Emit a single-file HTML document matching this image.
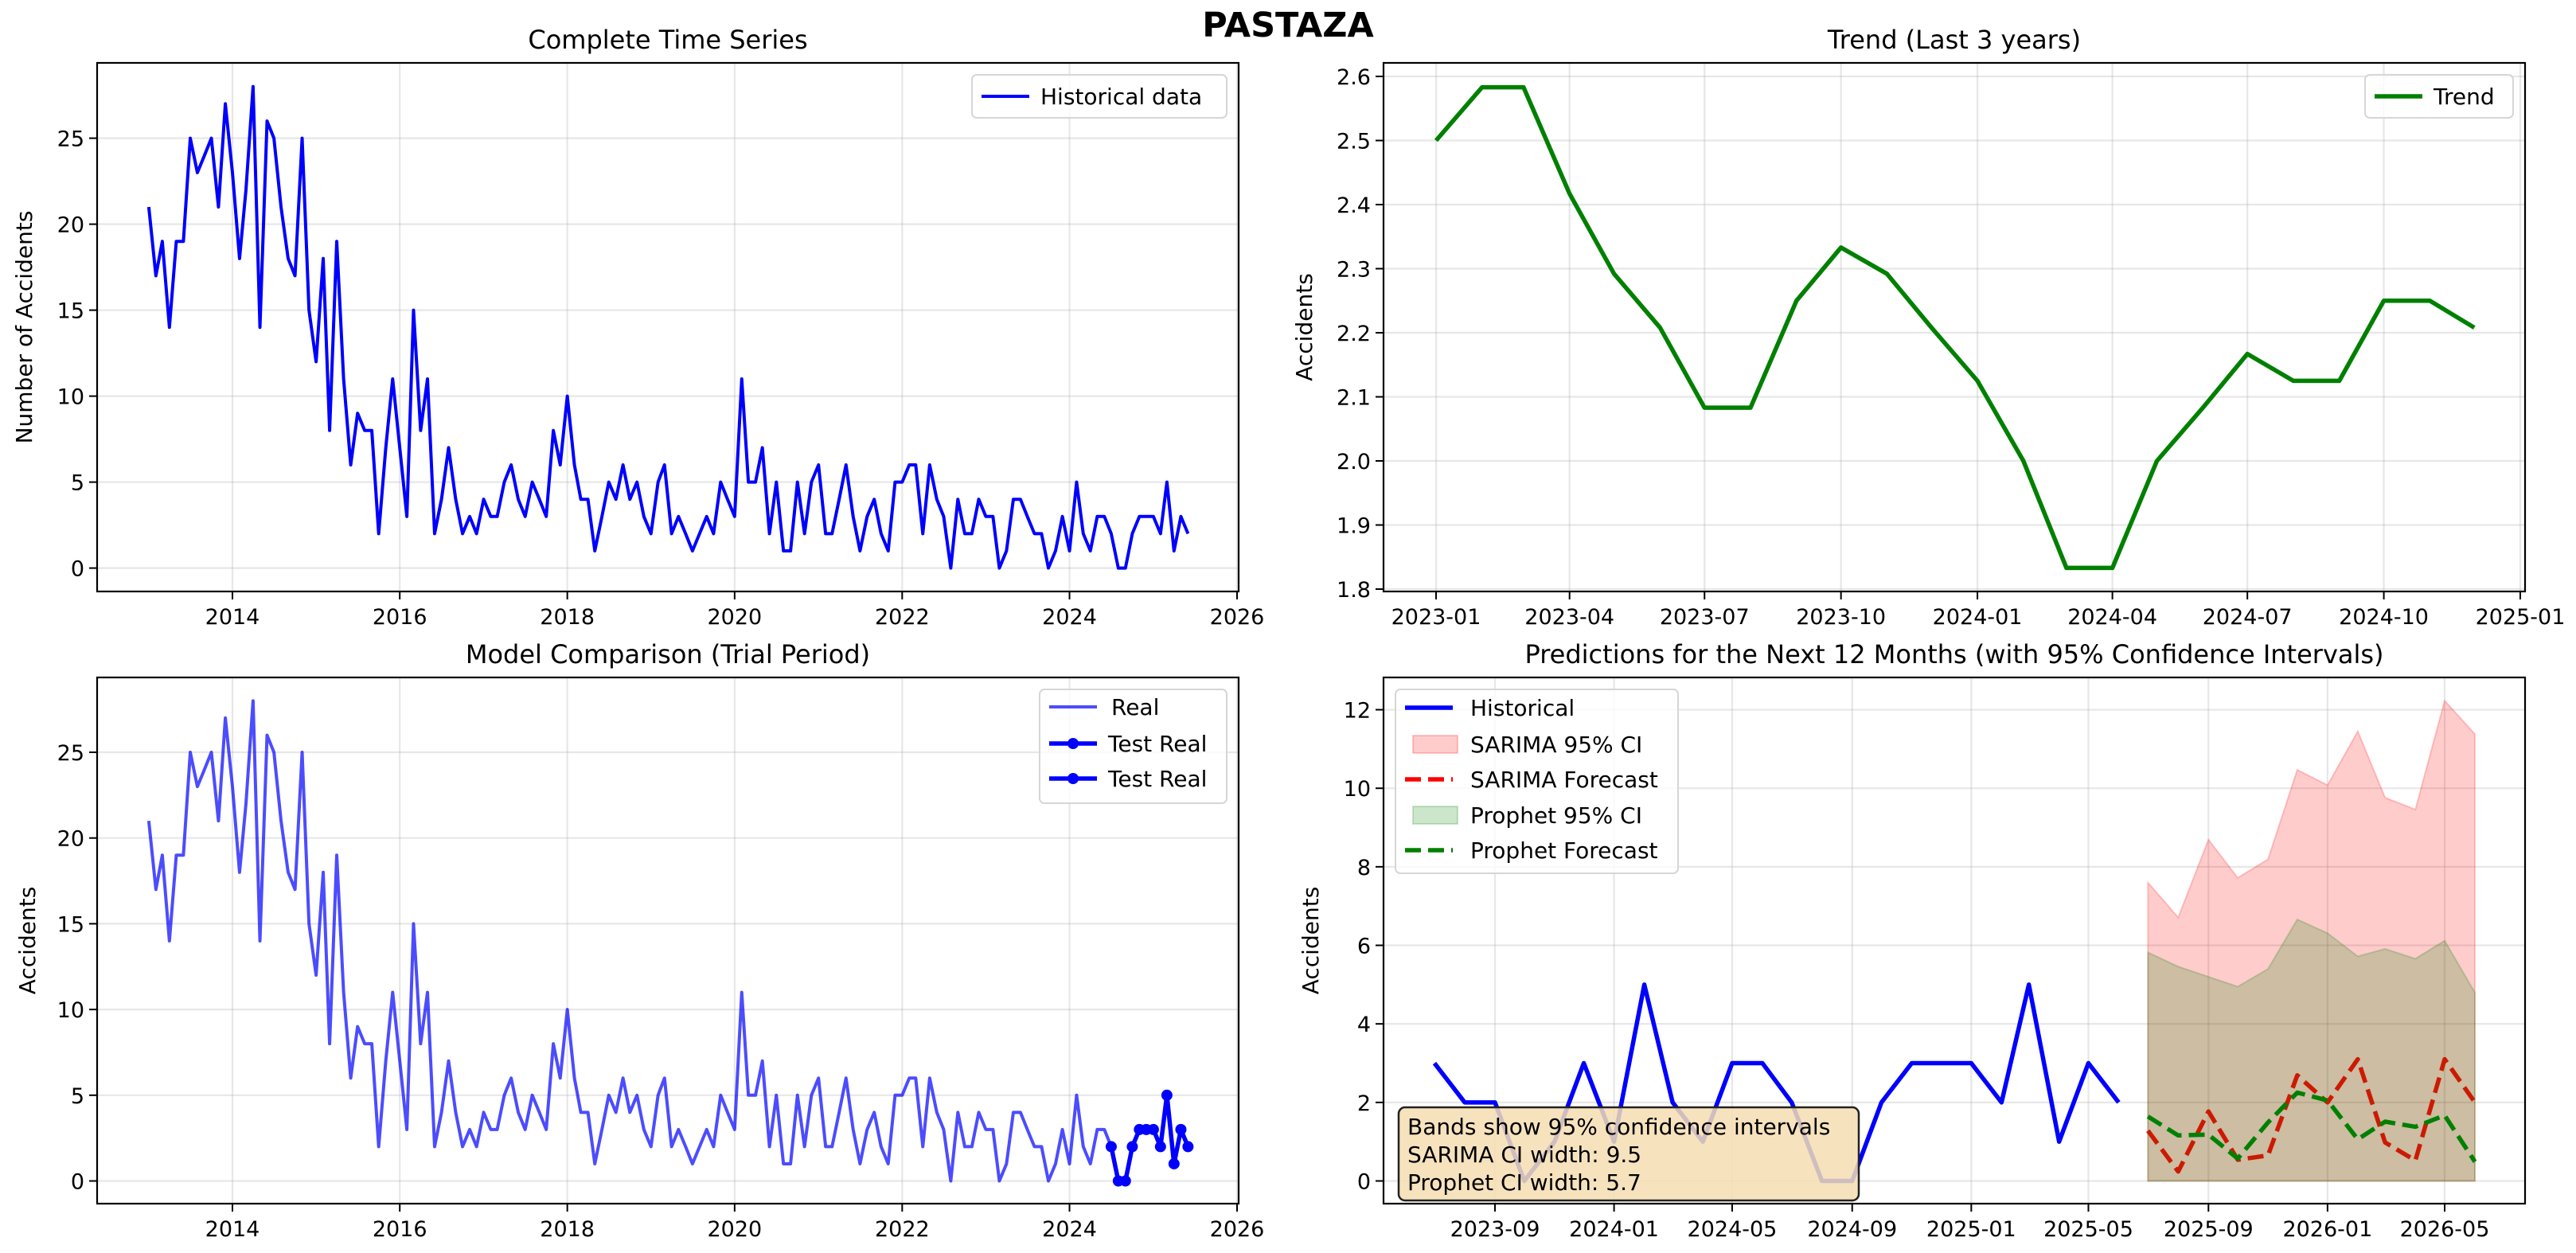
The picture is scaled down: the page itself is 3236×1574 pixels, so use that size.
<!DOCTYPE html>
<html><head><meta charset="utf-8"><style>
html,body{margin:0;padding:0;background:#fff}
svg{display:block}
text{font-family:"DejaVu Sans","Liberation Sans",sans-serif;fill:#000}
</style></head><body>
<svg id="fig" width="3236" height="1574" viewBox="0 0 3236 1574" xmlns="http://www.w3.org/2000/svg">
<rect width="3236" height="1574" fill="#fff"/>
<text x="1618" y="46" font-size="43" font-weight="bold" text-anchor="middle">PASTAZA</text>
</svg>
<script>
// ---- data ----
const histValues = [
21,17,19,14,19,19,25,23,24,25,21,27,
23,18,22,28,14,26,25,21,18,17,25,15,
12,18,8,19,11,6,9,8,8,2,7,11,
7,3,15,8,11,2,4,7,4,2,3,2,
4,3,3,5,6,4,3,5,4,3,8,6,
10,6,4,4,1,3,5,4,6,4,5,3,
2,5,6,2,3,2,1,2,3,2,5,4,
3,11,5,5,7,2,5,1,1,5,2,5,
6,2,2,4,6,3,1,3,4,2,1,5,
5,6,6,2,6,4,3,0,4,2,2,4,
3,3,0,1,4,4,3,2,2,0,1,3,
1,5,2,1,3,3,2,0,0,2,3,3,
3,2,5,1,3,2];
const histStart = [2013,0];
const testStartIndex = 138; // 2024-07
const trendValues = [2.5,2.583,2.583,2.417,2.292,2.208,2.083,2.083,2.25,2.333,2.292,2.208,
2.125,2.0,1.833,1.833,2.0,2.083,2.167,2.125,2.125,2.25,2.25,2.208];
const trendStart = [2023,0];
const recentStart = [2023,6]; // BR historical from 2023-07
const forecastStart = [2025,6];
const sarimaForecast = [1.28,0.24,1.77,0.54,0.65,2.69,2.0,3.1,0.98,0.52,3.1,2.0];
const sarimaUpper = [7.6,6.71,8.69,7.72,8.19,10.47,10.08,11.45,9.76,9.46,12.23,11.38];
const sarimaLower = [0,0,0,0,0,0,0,0,0,0,0,0];
const prophetForecast = [1.64,1.16,1.18,0.57,1.49,2.25,2.05,1.06,1.51,1.38,1.67,0.49];
const prophetUpper = [5.82,5.46,5.2,4.95,5.4,6.66,6.31,5.72,5.91,5.66,6.12,4.8];
const prophetLower = [0,0,0,0,0,0,0,0,0,0,0,0];
const yearTicks = [2014,2016,2018,2020,2022,2024,2026];
const countTicks = [0,5,10,15,20,25];
const trendTicks = [1.8,1.9,2.0,2.1,2.2,2.3,2.4,2.5,2.6];
const trendXTicks = ["2023-01","2023-04","2023-07","2023-10","2024-01","2024-04","2024-07","2024-10","2025-01"];
const predYTicks = [0,2,4,6,8,10,12];
const predXTicks = ["2023-09","2024-01","2024-05","2024-09","2025-01","2025-05","2025-09","2026-01","2026-05"];

const NS="http://www.w3.org/2000/svg";
const svg=document.getElementById('fig');
function el(tag,attrs,parent){const e=document.createElementNS(NS,tag);for(const k in attrs)e.setAttribute(k,attrs[k]);(parent||svg).appendChild(e);return e;}
function day(y,m){return Date.UTC(y,m,1)/86400000;}
function monthDay(start,i){return day(start[0],start[1]+i);}
function parseYM(s){const p=s.split('-');return day(+p[0],+p[1]-1);}

function makeAxes(o){
  const g=el('g',{});
  
  
  const X=d=>o.x0+(d-o.d0)*o.ppd;
  const Y=v=>o.yv0-(v-o.v0)*o.ppv;
  // grid + ticks
  o.xt.forEach(t=>{const x=X(t.d);
    el('line',{x1:x,x2:x,y1:o.top,y2:o.bottom,stroke:'#b0b0b0','stroke-opacity':0.3,'stroke-width':2.2},g);
    el('line',{x1:x,x2:x,y1:o.bottom,y2:o.bottom+10,stroke:'#000','stroke-width':2},g);
    const tx=el('text',{x:x,y:o.bottom+41,'font-size':27,'text-anchor':'middle'},g);tx.textContent=t.l;
    });
  o.yt.forEach(v=>{const y=Y(v);
    el('line',{x1:o.left,x2:o.right,y1:y,y2:y,stroke:'#b0b0b0','stroke-opacity':0.3,'stroke-width':2.2},g);
    el('line',{x1:o.left-10,x2:o.left,y1:y,y2:y,stroke:'#000','stroke-width':2},g);
    const tx=el('text',{x:o.left-16,y:y+10,'font-size':27,'text-anchor':'end'},g);tx.textContent=o.yfmt?o.yfmt(v):v;
    });
  const t=el('text',{x:(o.left+o.right)/2,y:o.top-18,'font-size':32,'text-anchor':'middle'},g);t.textContent=o.title;
  
  const yl=el('text',{x:0,y:0,'font-size':28,'text-anchor':'middle',transform:`translate(${o.ylx},${(o.top+o.bottom)/2}) rotate(-90)`},g);yl.textContent=o.ylabel;
  
  const clip='c'+Math.round(o.left)+Math.round(o.top);
  const cp=el('clipPath',{id:clip},g);el('rect',{x:o.left,y:o.top,width:o.right-o.left,height:o.bottom-o.top},cp);
  const plot=el('g',{'clip-path':`url(#${clip})`},g);
  return {g,plot,X,Y,o};
}
function frame(a){el('rect',{x:a.o.left,y:a.o.top,width:a.o.right-a.o.left,height:a.o.bottom-a.o.top,fill:'none',stroke:'#000','stroke-width':2.2},a.g);}
function poly(a,pts,attrs,name){const p=el('polyline',Object.assign({points:pts.map(q=>q.join(',')).join(' '),fill:'none','stroke-linejoin':'round'},attrs),a.plot);
  return p;}
function legend(a,x,y,w,h,items){
  const lg=el('g',{},a.g);
  
  el('rect',{x,y,width:w,height:h,rx:6,fill:'#fff','fill-opacity':0.8,stroke:'#d6d6d6','stroke-width':2},lg);
  items.forEach(it=>{
    const e=el('g',{},lg);
    
    const cy=it.y;
    if(it.patch){el('rect',{x:x+22,y:cy-11,width:56,height:22,fill:it.patch,'fill-opacity':0.2,stroke:it.patch,'stroke-opacity':0.2,'stroke-width':2},e);}
    else{el('line',{x1:x+12,x2:x+72,y1:cy,y2:cy,stroke:it.color,'stroke-width':it.w,'stroke-dasharray':it.dash||'none','stroke-opacity':it.op||1},e);
      if(it.marker)el('circle',{cx:x+42,cy:cy,r:7,fill:it.color},e);}
    const t=el('text',{x:x+it.tx,y:cy+10,'font-size':28},e);t.textContent=it.label;
  });
}

// ---- Top-left ----
const yt=yearTicks.map(yv=>({d:day(yv,0),l:String(yv)}));
let A=makeAxes({name:'complete-time-series-chart',left:122,right:1556,top:79,bottom:743,x0:292,d0:day(2014,0),ppd:1262/(day(2026,0)-day(2014,0)),
  yv0:713.6,v0:0,ppv:21.6,xt:yt,yt:countTicks,title:'Complete Time Series',ylabel:'Number of Accidents',ylx:40});
poly(A,histValues.map((v,i)=>[A.X(monthDay(histStart,i)),A.Y(v)]),{stroke:'#0000ff','stroke-width':4},'historical-data-line');
frame(A);
legend(A,1221,94,320,54,[{y:121,color:'#0000ff',w:4,label:'Historical data',tx:86}]);

// ---- Top-right ----
const tx2=trendXTicks.map(s=>({d:parseYM(s),l:s}));
A=makeAxes({name:'trend-chart',left:1738,right:3172,top:79,bottom:743,x0:1804,d0:day(2023,0),ppd:1362/(day(2025,0)-day(2023,0)),
  yv0:740,v0:1.8,ppv:805,xt:tx2,yt:trendTicks,yfmt:v=>v.toFixed(1),title:'Trend (Last 3 years)',ylabel:'Accidents',ylx:1648});
poly(A,trendValues.map((v,i)=>[A.X(monthDay(trendStart,i)),A.Y(v)]),{stroke:'#008000','stroke-width':5.5},'trend-line');
frame(A);
legend(A,2971,94,186,54,[{y:121,color:'#008000',w:5.5,label:'Trend',tx:86}]);

// ---- Bottom-left ----
A=makeAxes({name:'model-comparison-chart',left:122,right:1556,top:851,bottom:1512,x0:292,d0:day(2014,0),ppd:1262/(day(2026,0)-day(2014,0)),
  yv0:1483.5,v0:0,ppv:21.54,xt:yt,yt:countTicks,title:'Model Comparison (Trial Period)',ylabel:'Accidents',ylx:44});
poly(A,histValues.map((v,i)=>[A.X(monthDay(histStart,i)),A.Y(v)]),{stroke:'#0000ff','stroke-opacity':0.7,'stroke-width':4},'real-line');
const testPts=histValues.slice(testStartIndex).map((v,i)=>[A.X(monthDay(histStart,testStartIndex+i)),A.Y(v)]);
poly(A,testPts,{stroke:'#0000ff','stroke-width':5.5},'test-real-line');
testPts.forEach(p=>{const c=el('circle',{cx:p[0],cy:p[1],r:7,fill:'#0000ff'},A.plot);
  
  });
frame(A);
legend(A,1306,866,235,143,[{y:888,color:'#0000ff',w:4,op:0.7,label:'Real',tx:90},
  {y:934,color:'#0000ff',w:5.5,marker:true,label:'Test Real',tx:86},{y:978,color:'#0000ff',w:5.5,marker:true,label:'Test Real',tx:86}]);

// ---- Bottom-right ----
const tx4=predXTicks.map(s=>({d:parseYM(s),l:s}));
A=makeAxes({name:'predictions-chart',left:1738,right:3172,top:851,bottom:1512,x0:1878,d0:day(2023,8),ppd:1193/(day(2026,4)-day(2023,8)),
  yv0:1483.5,v0:0,ppv:49.33,xt:tx4,yt:predYTicks,title:'Predictions for the Next 12 Months (with 95% Confidence Intervals)',ylabel:'Accidents',ylx:1656});
const recent=histValues.slice(histValues.length-24);
const fx=i=>A.X(monthDay(forecastStart,i));
function band(up,lo,color,name){
  const pts=up.map((v,i)=>[fx(i),A.Y(v)]).concat(lo.map((v,i)=>[fx(i),A.Y(v)]).reverse());
  const p=el('polygon',{points:pts.map(q=>q.join(',')).join(' '),fill:color,'fill-opacity':0.2,stroke:color,'stroke-opacity':0.2,'stroke-width':2},A.plot);
  }
poly(A,recent.map((v,i)=>[A.X(monthDay(recentStart,i)),A.Y(v)]),{stroke:'#0000ff','stroke-width':5.5},'historical-line');
band(sarimaUpper,sarimaLower,'#ff0000','sarima-ci-band');
poly(A,sarimaForecast.map((v,i)=>[fx(i),A.Y(v)]),{stroke:'#ff0000','stroke-width':5.5,'stroke-dasharray':'20 9'},'sarima-forecast-line');
band(prophetUpper,prophetLower,'#008000','prophet-ci-band');
poly(A,prophetForecast.map((v,i)=>[fx(i),A.Y(v)]),{stroke:'#008000','stroke-width':5.5,'stroke-dasharray':'20 9'},'prophet-forecast-line');
frame(A);
legend(A,1753,866,355,231,[{y:889,color:'#0000ff',w:5.5,label:'Historical',tx:94},
  {y:935,patch:'#ff0000',label:'SARIMA 95% CI',tx:94},{y:979,color:'#ff0000',w:5.5,dash:'20 9',label:'SARIMA Forecast',tx:94},
  {y:1024,patch:'#008000',label:'Prophet 95% CI',tx:94},{y:1068,color:'#008000',w:5.5,dash:'20 9',label:'Prophet Forecast',tx:94}]);
const box=el('g',{},A.g);


el('rect',{x:1757,y:1391,width:578,height:117,rx:8,fill:'#f5deb3','fill-opacity':0.85,stroke:'#222','stroke-width':2.5},box);
["Bands show 95% confidence intervals","SARIMA CI width: 9.5","Prophet CI width: 5.7"].forEach((s,i)=>{
  const t=el('text',{x:1768,y:1425+i*35,'font-size':28},box);t.textContent=s;});
</script>
</body></html>
